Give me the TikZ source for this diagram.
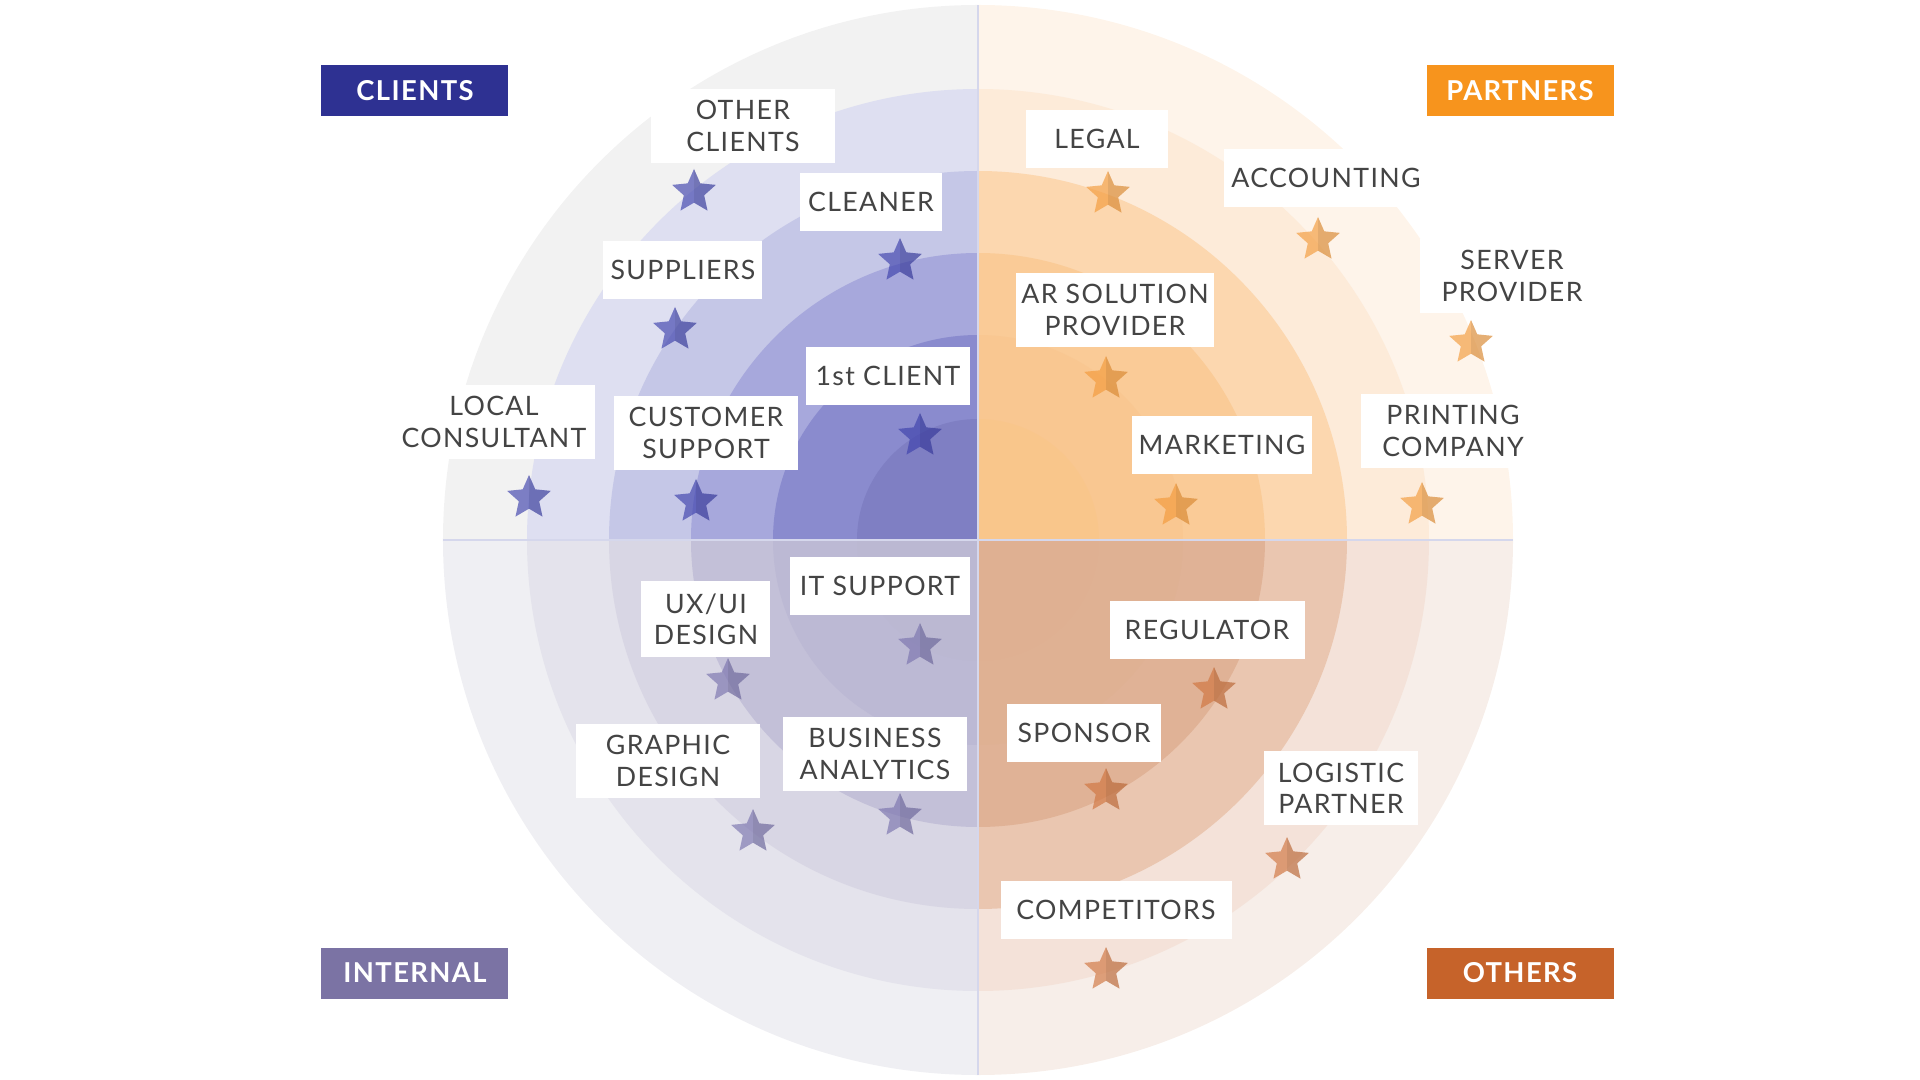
\documentclass[tikz,border=0pt]{standalone}
\usepackage{fontspec}
\setmainfont{Lato}[LetterSpace=5]
\usetikzlibrary{shapes.geometric}

% quadrant colours, outer ring first
\definecolor{tlA}{HTML}{F2F2F2}\definecolor{tlB}{HTML}{DEDFF1}\definecolor{tlC}{HTML}{C5C7E7}
\definecolor{tlD}{HTML}{A7A8DC}\definecolor{tlE}{HTML}{8A8BCE}\definecolor{tlF}{HTML}{7F7FC3}
\definecolor{trA}{HTML}{FEF4EA}\definecolor{trB}{HTML}{FDEBD9}\definecolor{trC}{HTML}{FCD7AF}
\definecolor{trD}{HTML}{FACB97}\definecolor{trE}{HTML}{F9C791}\definecolor{trF}{HTML}{F9C68B}
\definecolor{blA}{HTML}{EFEFF3}\definecolor{blB}{HTML}{E4E3EC}\definecolor{blC}{HTML}{D8D6E4}
\definecolor{blD}{HTML}{C3C0D8}\definecolor{blE}{HTML}{BCB9D4}\definecolor{blF}{HTML}{BBB8D2}
\definecolor{brA}{HTML}{F7EEE9}\definecolor{brB}{HTML}{F4E2D9}\definecolor{brC}{HTML}{EAC6B0}
\definecolor{brD}{HTML}{E0B296}\definecolor{brE}{HTML}{DFB193}\definecolor{brF}{HTML}{DFB092}

\definecolor{clientsblue}{HTML}{2E3192}
\definecolor{partnersorange}{HTML}{F7941D}
\definecolor{internalpurple}{HTML}{7B73A4}
\definecolor{othersbrown}{HTML}{C6632A}
\definecolor{labelgray}{HTML}{444444}
\definecolor{divider}{HTML}{D5D7EC}

\definecolor{starblue}{HTML}{3D41AC}
\definecolor{starorange}{HTML}{F39A3A}
\definecolor{starpurple}{HTML}{7A73AE}
\definecolor{starbrown}{HTML}{D0743E}

\tikzset{
  tag/.style={fill=white, text=labelgray, font=\fontsize{7.6}{8.9}\selectfont,
    align=center, inner xsep=0.05cm, inner ysep=0.12cm, minimum height=0.58cm},
  head/.style={fill=#1, text=white, font=\fontsize{7.8}{9}\selectfont\bfseries,
    minimum width=1.87cm, minimum height=0.51cm, inner sep=0},
  starmark/.style={star, star points=5, star point ratio=2.15, minimum size=0.46cm,
    inner sep=0, fill=#1, fill opacity=.65,
    path picture={\fill[black, fill opacity=.07] (path picture bounding box.north)
      rectangle (path picture bounding box.south east);}}
}

\begin{document}
\begin{tikzpicture}
  \useasboundingbox (-9.78,-5.40) rectangle (9.42,5.40);

  % rings, one pie slice per quadrant
  \foreach \r/\tl/\tr/\bl/\br in {5.35/tlA/trA/blA/brA, 4.51/tlB/trB/blB/brB,
      3.69/tlC/trC/blC/brC, 2.87/tlD/trD/blD/brD, 2.05/tlE/trE/blE/brE, 1.21/tlF/trF/blF/brF} {
    \fill[\tr] (0,0) -- (0:\r) arc (0:90:\r) -- cycle;
    \fill[\tl] (0,0) -- (90:\r) arc (90:180:\r) -- cycle;
    \fill[\bl] (0,0) -- (180:\r) arc (180:270:\r) -- cycle;
    \fill[\br] (0,0) -- (270:\r) arc (270:360:\r) -- cycle;
  }
  \draw[divider, line width=0.4pt] (0,-5.35) -- (0,5.35);
  \draw[divider, line width=0.4pt] (-5.35,0) -- (5.35,0);

  % group headers
  \node[head=clientsblue] (clients) at (-5.63,4.49) {CLIENTS};
  \node[head=partnersorange] (partners) at (5.42,4.49) {PARTNERS};
  \node[head=internalpurple] (internal) at (-5.63,-4.33) {INTERNAL};
  \node[head=othersbrown] (others) at (5.42,-4.33) {OTHERS};

  % clients
  \node[tag, minimum width=1.84cm] (otherclients) at (-2.35,4.14) {OTHER\\CLIENTS};
  \node[starmark=starblue] (s-otherclients) at (-2.84,3.48) {};
  \node[tag, minimum width=1.42cm] (cleaner) at (-1.07,3.38) {CLEANER};
  \node[starmark=starblue] (s-cleaner) at (-0.78,2.79) {};
  \node[tag, minimum width=1.59cm] (suppliers) at (-2.95,2.70) {SUPPLIERS};
  \node[starmark=starblue] (s-suppliers) at (-3.03,2.10) {};
  \node[tag, minimum width=2.02cm] (localcons) at (-4.84,1.18) {LOCAL\\CONSULTANT};
  \node[starmark=starblue] (s-localcons) at (-4.49,0.42) {};
  \node[tag, minimum width=1.84cm] (custsupport) at (-2.72,1.07) {CUSTOMER\\SUPPORT};
  \node[starmark=starblue] (s-custsupport) at (-2.82,0.38) {};
  \node[tag, minimum width=1.64cm] (firstclient) at (-0.90,1.64) {1st CLIENT};
  \node[starmark=starblue] (s-firstclient) at (-0.58,1.04) {};

  % partners
  \node[tag, minimum width=1.42cm] (legal) at (1.19,4.01) {LEGAL};
  \node[starmark=starorange] (s-legal) at (1.30,3.46) {};
  \node[tag, minimum width=2.05cm] (accounting) at (3.48,3.62) {ACCOUNTING};
  \node[starmark=starorange] (s-accounting) at (3.40,3.00) {};
  \node[tag, minimum width=1.85cm] (server) at (5.34,2.64) {SERVER\\PROVIDER};
  \node[starmark=starorange] (s-server) at (4.93,1.97) {};
  \node[tag, minimum width=1.98cm] (arsolution) at (1.37,2.30) {AR SOLUTION\\PROVIDER};
  \node[starmark=starorange] (s-arsolution) at (1.28,1.61) {};
  \node[tag, minimum width=1.80cm] (marketing) at (2.44,0.95) {MARKETING};
  \node[starmark=starorange] (s-marketing) at (1.98,0.34) {};
  \node[tag, minimum width=1.84cm] (printing) at (4.75,1.09) {PRINTING\\COMPANY};
  \node[starmark=starorange] (s-printing) at (4.44,0.35) {};

  % internal
  \node[tag, minimum width=1.80cm] (itsupport) at (-0.98,-0.46) {IT SUPPORT};
  \node[starmark=starpurple] (s-itsupport) at (-0.58,-1.06) {};
  \node[tag, minimum width=1.29cm] (uxui) at (-2.72,-0.79) {UX/UI\\DESIGN};
  \node[starmark=starpurple] (s-uxui) at (-2.50,-1.41) {};
  \node[tag, minimum width=1.84cm] (graphic) at (-3.10,-2.21) {GRAPHIC\\DESIGN};
  \node[starmark=starpurple] (s-graphic) at (-2.25,-2.92) {};
  \node[tag, minimum width=1.84cm] (analytics) at (-1.03,-2.14) {BUSINESS\\ANALYTICS};
  \node[starmark=starpurple] (s-analytics) at (-0.78,-2.76) {};

  % others
  \node[tag, minimum width=1.95cm] (regulator) at (2.29,-0.90) {REGULATOR};
  \node[starmark=starbrown] (s-regulator) at (2.36,-1.50) {};
  \node[tag, minimum width=1.54cm] (sponsor) at (1.06,-1.93) {SPONSOR};
  \node[starmark=starbrown] (s-sponsor) at (1.28,-2.51) {};
  \node[tag, minimum width=1.54cm] (logistic) at (3.63,-2.48) {LOGISTIC\\PARTNER};
  \node[starmark=starbrown] (s-logistic) at (3.09,-3.20) {};
  \node[tag, minimum width=2.31cm] (competitors) at (1.38,-3.70) {COMPETITORS};
  \node[starmark=starbrown] (s-competitors) at (1.28,-4.30) {};
\end{tikzpicture}
\end{document}
